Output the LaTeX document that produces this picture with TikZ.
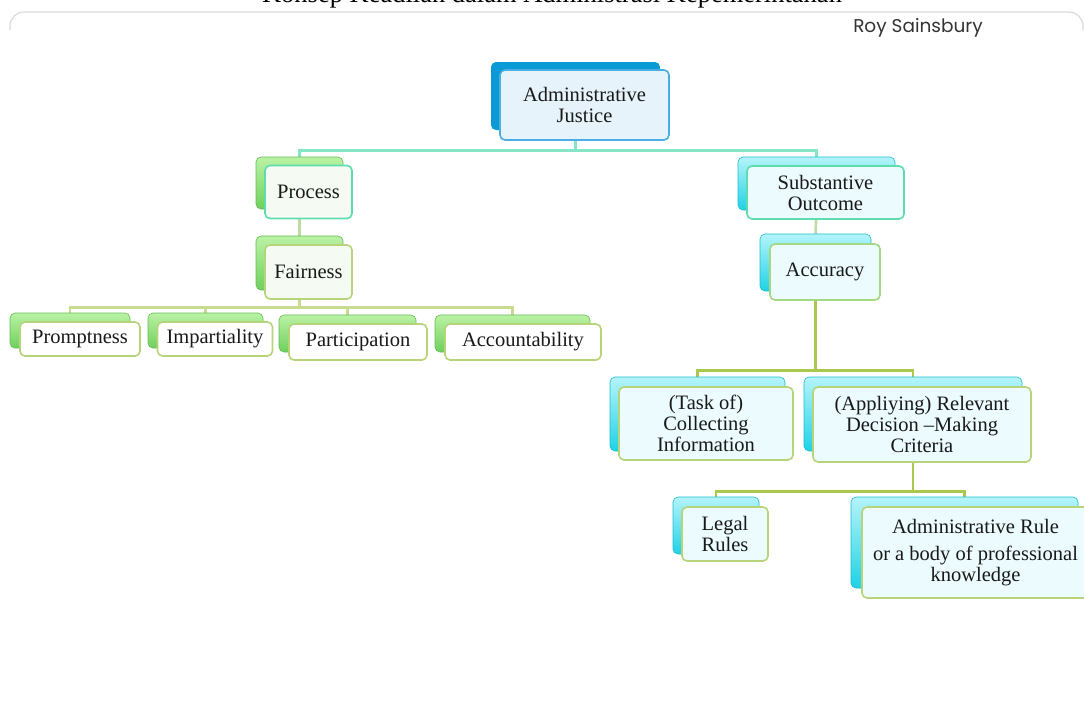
\documentclass[tikz,border=0pt]{standalone}
\usepackage{fontspec}
\setmainfont{Liberation Serif}
\newfontfamily\roysans{Poppins}
\usetikzlibrary{backgrounds}
\definecolor{bluebk}{HTML}{0A9AD6}
\definecolor{bluefr}{HTML}{E6F3FB}
\definecolor{blueln}{HTML}{4AAEE3}
\definecolor{greentop}{HTML}{BAF2A5}
\definecolor{greenbot}{HTML}{6FD05C}
\definecolor{cyantop}{HTML}{B5F4FA}
\definecolor{cyanbot}{HTML}{1FD2E5}
\definecolor{greenfr}{HTML}{F5FBF2}
\definecolor{cyanfr}{HTML}{ECFBFD}
\definecolor{tealln}{HTML}{5FDCAE}
\definecolor{oliveln}{HTML}{B8D47A}
\definecolor{lightln}{HTML}{A3D984}
\definecolor{topconn}{HTML}{84E5C7}
\definecolor{midconn}{HTML}{BCDCA4}
\definecolor{lowconn}{HTML}{C8DB8E}
\definecolor{darkconn}{HTML}{AAC84C}
\definecolor{framegray}{HTML}{DADADA}

\begin{document}
\begin{tikzpicture}[x=1pt,y=-1pt,
    wh/.style 2 args={minimum width=#1,minimum height=#2,inner sep=0pt},
    backblue/.style={rounded corners=5pt,fill=bluebk},
    backgreen/.style={rounded corners=5pt,top color=greentop,bottom color=greenbot,draw=greenbot!90!black,line width=0.6pt},
    backcyan/.style={rounded corners=5pt,top color=cyantop,bottom color=cyanbot,draw=cyanbot!90!black,line width=0.6pt},
    front/.style 2 args={rounded corners=5pt,fill=#2,draw=#1,line width=1.6pt,align=center,
        font=\fontsize{20.5}{21}\selectfont,text=black!90},
    conn/.style={line width=2.6pt,#1}]
    \useasboundingbox (0,0) rectangle (1084,716);

    \node[font=\fontsize{26.5}{26.5}\selectfont,anchor=base] (title) at (552,2.6)
        {Konsep Keadilan dalam Administrasi Kepemerintahan};
    \draw[framegray,line width=1.2pt,rounded corners=14pt] (10,30) -- (10,12) -- (1083,12) -- (1083,30);
    \node[font=\roysans\fontsize{18.5}{18.5}\selectfont,text=black!80] (author) at (918,28) {Roy Sainsbury};

    \node[backblue,wh={169}{68}] (ajb) at (575.5,96) {};
    \node[front={blueln}{bluefr},wh={169}{70}] (aj) at ([shift={(9,9)}]ajb) {Administrative\\Justice};

    \node[backgreen,wh={87}{52}] (procb) at (299.5,183) {};
    \node[front={tealln}{greenfr},wh={87}{53}] (proc) at ([shift={(9,9)}]procb) {Process};
    \node[backgreen,wh={87}{54}] (fairb) at (299.5,263) {};
    \node[front={oliveln}{greenfr},wh={87}{54}] (fair) at ([shift={(9,9)}]fairb) {Fairness};

    \node[backgreen,wh={120}{35}] (promb) at (70,330.5) {};
    \node[front={oliveln}{white},wh={120}{34}] (prom) at ([shift={(10,8.5)}]promb) {Promptness};
    \node[backgreen,wh={115}{35}] (impb) at (205.5,330.5) {};
    \node[front={oliveln}{white},wh={115}{34}] (imp) at ([shift={(9.5,8.5)}]impb) {Impartiality};
    \node[backgreen,wh={137}{37}] (partb) at (347.5,333.5) {};
    \node[front={oliveln}{white},wh={138}{36}] (part) at ([shift={(10.5,8.5)}]partb) {Participation};
    \node[backgreen,wh={155}{37}] (accb) at (512.5,333.5) {};
    \node[front={oliveln}{white},wh={156}{36}] (acc) at ([shift={(10.5,8.5)}]accb) {Accountability};

    \node[backcyan,wh={157}{53}] (subb) at (816.5,183.5) {};
    \node[front={tealln}{cyanfr},wh={157}{53}] (sub) at ([shift={(9,9)}]subb) {Substantive\\Outcome};
    \node[backcyan,wh={111}{57}] (accub) at (815.5,262.5) {};
    \node[front={lightln}{cyanfr},wh={110}{56}] (accu) at ([shift={(9.5,9.5)}]accub) {Accuracy};

    \node[backcyan,wh={175}{74}] (colb) at (697.5,414) {};
    \node[front={oliveln}{cyanfr},wh={174}{73}] (col) at ([shift={(8.5,9.5)}]colb) {(Task of)\\Collecting\\Information};
    \node[backcyan,wh={218}{74}] (relb) at (913,414) {};
    \node[front={oliveln}{cyanfr},wh={218}{75}] (rel) at ([shift={(9,10.5)}]relb) {(Appliying) Relevant\\Decision --Making\\Criteria};

    \node[backcyan,wh={86}{57}] (legb) at (716,525.5) {};
    \node[front={oliveln}{cyanfr},wh={86}{54}] (leg) at ([shift={(9,8.5)}]legb) {Legal\\Rules};
    \node[backcyan,wh={227}{91}] (admrb) at (964.5,542.5) {};
    \node[front={oliveln}{cyanfr},wh={227}{91}] (admr) at ([shift={(11,10)}]admrb) {Administrative Rule\\[6pt]or a body of professional\\knowledge};

    \begin{scope}[on background layer]
    \draw[conn=topconn] (ajb.south) -- ++(0,20) -| (procb.north);
    \draw[conn=topconn] (ajb.south) -- ++(0,20) -| (subb.north);
    \draw[conn=midconn] (procb.south) -- (fairb.north);
    \draw[conn=lowconn] (fairb.south) -- ++(0,17) -| (promb.north);
    \draw[conn=lowconn] (fairb.south) -- ++(0,17) -| (impb.north);
    \draw[conn=lowconn] (fairb.south) -- ++(0,17) -| (partb.north);
    \draw[conn=lowconn] (fairb.south) -- ++(0,17) -| (accb.north);
    \draw[conn=midconn] (subb.south) -- (accub.north);
    \draw[conn=darkconn] (accub.south) -- ++(0,79) -| (colb.north);
    \draw[conn=darkconn] (accub.south) -- ++(0,79) -| (relb.north);
    \draw[conn=darkconn] (relb.south) -- ++(0,40) -| (legb.north);
    \draw[conn=darkconn] (relb.south) -- ++(0,40) -| (admrb.north);
    \end{scope}
\end{tikzpicture}
\end{document}
